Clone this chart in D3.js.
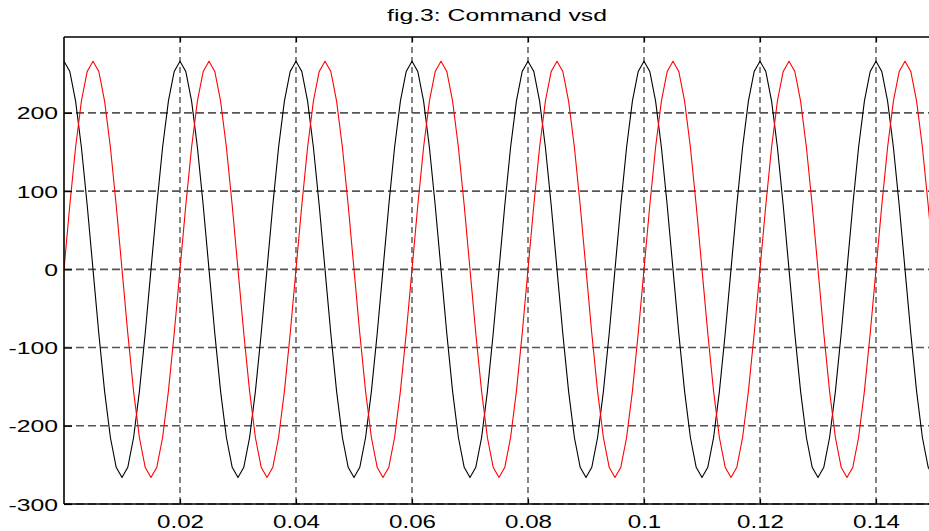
<!DOCTYPE html>
<html><head><meta charset="utf-8">
<script src="https://cdn.jsdelivr.net/npm/d3@7"></script>
<style>body{margin:0;background:#fff;} svg{display:block;}</style>
</head><body><svg id="chart" width="929" height="531"></svg>
<script>
const chartTitle = "fig.3: Command vsd";
const sampleStep = 0.001;
const blackSeries = [
266,253,215,156,82,0,-82,-156,-215,-253,-266,-253,-215,-156,-82,0,82,156,215,253,
266,253,215,156,82,0,-82,-156,-215,-253,-266,-253,-215,-156,-82,0,82,156,215,253,
266,253,215,156,82,0,-82,-156,-215,-253,-266,-253,-215,-156,-82,0,82,156,215,253,
266,253,215,156,82,0,-82,-156,-215,-253,-266,-253,-215,-156,-82,0,82,156,215,253,
266,253,215,156,82,0,-82,-156,-215,-253,-266,-253,-215,-156,-82,0,82,156,215,253,
266,253,215,156,82,0,-82,-156,-215,-253,-266,-253,-215,-156,-82,0,82,156,215,253,
266,253,215,156,82,0,-82,-156,-215,-253,-266,-253,-215,-156,-82,0,82,156,215,253,
266,253,215,156,82,0,-82,-156,-215,-253,-266
];
const redSeries = [
0,82,156,215,253,266,253,215,156,82,0,-82,-156,-215,-253,-266,-253,-215,-156,-82,
0,82,156,215,253,266,253,215,156,82,0,-82,-156,-215,-253,-266,-253,-215,-156,-82,
0,82,156,215,253,266,253,215,156,82,0,-82,-156,-215,-253,-266,-253,-215,-156,-82,
0,82,156,215,253,266,253,215,156,82,0,-82,-156,-215,-253,-266,-253,-215,-156,-82,
0,82,156,215,253,266,253,215,156,82,0,-82,-156,-215,-253,-266,-253,-215,-156,-82,
0,82,156,215,253,266,253,215,156,82,0,-82,-156,-215,-253,-266,-253,-215,-156,-82,
0,82,156,215,253,266,253,215,156,82,0,-82,-156,-215,-253,-266,-253,-215,-156,-82,
0,82,156,215,253,266,253,215,156,82,0
];
const xTickValues = [0.02, 0.04, 0.06, 0.08, 0.1, 0.12, 0.14];
const xTickLabels = ["0.02", "0.04", "0.06", "0.08", "0.1", "0.12", "0.14"];
const yTickValues = [-300, -200, -100, 0, 100, 200];
const yTickLabels = ["-300", "-200", "-100", "0", "100", "200"];
const xDomain = [0, 0.15];
const yDomain = [-300, 297];

const FONT = "'Liberation Sans', Arial, Helvetica, sans-serif";
const plot = {left: 64, right: 934, top: 37, bottom: 504};
const svg = d3.select("#chart");
svg.append("rect").attr("width", 929).attr("height", 531).attr("fill", "#fff");

const x = d3.scaleLinear().domain(xDomain).range([plot.left, plot.right]);
const y = d3.scaleLinear().domain(yDomain).range([plot.bottom, plot.top]);

svg.append("defs").append("clipPath").attr("id", "clip")
  .append("rect").attr("x", plot.left).attr("y", plot.top)
  .attr("width", plot.right - plot.left).attr("height", plot.bottom - plot.top);

// grid
const grid = svg.append("g");
grid.selectAll("line.vg").data(xTickValues).enter().append("line")
  .attr("x1", d => x(d)).attr("x2", d => x(d))
  .attr("y1", plot.top).attr("y2", plot.bottom)
  .attr("stroke", "#333").attr("stroke-width", 1.2).attr("stroke-dasharray", "6,4");
grid.selectAll("line.hg").data(yTickValues).enter().append("line")
  .attr("x1", plot.left).attr("x2", plot.right)
  .attr("y1", d => y(d)).attr("y2", d => y(d))
  .attr("stroke", "#555").attr("stroke-width", 1.6).attr("stroke-dasharray", "8,4");

// series
const line = d3.line().x((d, i) => x(i * sampleStep)).y(d => y(d));
const curves = svg.append("g").attr("clip-path", "url(#clip)");
curves.append("path").datum(blackSeries).attr("d", line)
  .attr("fill", "none").attr("stroke", "#000").attr("stroke-width", 1.1);
curves.append("path").datum(redSeries).attr("d", line)
  .attr("fill", "none").attr("stroke", "#ff0000").attr("stroke-width", 1.1);

// axes box
const box = svg.append("g").attr("stroke", "#000").attr("stroke-width", 1.6);
box.append("line").attr("x1", plot.left).attr("x2", plot.left).attr("y1", plot.top).attr("y2", plot.bottom);
box.append("line").attr("x1", plot.left).attr("x2", plot.right).attr("y1", plot.top).attr("y2", plot.top);
box.append("line").attr("x1", plot.left).attr("x2", plot.right).attr("y1", plot.bottom).attr("y2", plot.bottom);

// bottom axis
const xAxis = svg.append("g").attr("transform", `translate(0,${plot.bottom})`)
  .call(d3.axisBottom(x).tickValues(xTickValues).tickFormat((d, i) => xTickLabels[i]).tickSize(-5));
xAxis.select(".domain").remove();
xAxis.selectAll(".tick line").attr("stroke", "#000").attr("stroke-width", 1.2);
xAxis.selectAll(".tick text").attr("y", 0).attr("dy", null)
  .attr("transform", "translate(0,24) scale(1.38,1)")
  .attr("font-family", FONT).attr("font-size", 17.5).attr("fill", "#000");

// top ticks
const xTop = svg.append("g").attr("transform", `translate(0,${plot.top})`)
  .call(d3.axisTop(x).tickValues(xTickValues).tickFormat("").tickSize(-5));
xTop.select(".domain").remove();
xTop.selectAll(".tick line").attr("stroke", "#000").attr("stroke-width", 1.2);

// left axis
const yAxis = svg.append("g").attr("transform", `translate(${plot.left},0)`)
  .call(d3.axisLeft(y).tickValues(yTickValues).tickFormat((d, i) => yTickLabels[i]).tickSize(-8));
yAxis.select(".domain").remove();
yAxis.selectAll(".tick line").attr("stroke", "#000").attr("stroke-width", 1.2);
yAxis.selectAll(".tick text").attr("x", 0).attr("dy", null)
  .attr("transform", "translate(-6,6) scale(1.5,1)")
  .attr("font-family", FONT).attr("font-size", 16.5).attr("fill", "#000");

// title
svg.append("text").text(chartTitle)
  .attr("transform", "translate(497,21) scale(1.5,1)")
  .attr("text-anchor", "middle")
  .attr("font-family", FONT).attr("font-size", 16.5).attr("fill", "#000");
</script>
</body></html>
